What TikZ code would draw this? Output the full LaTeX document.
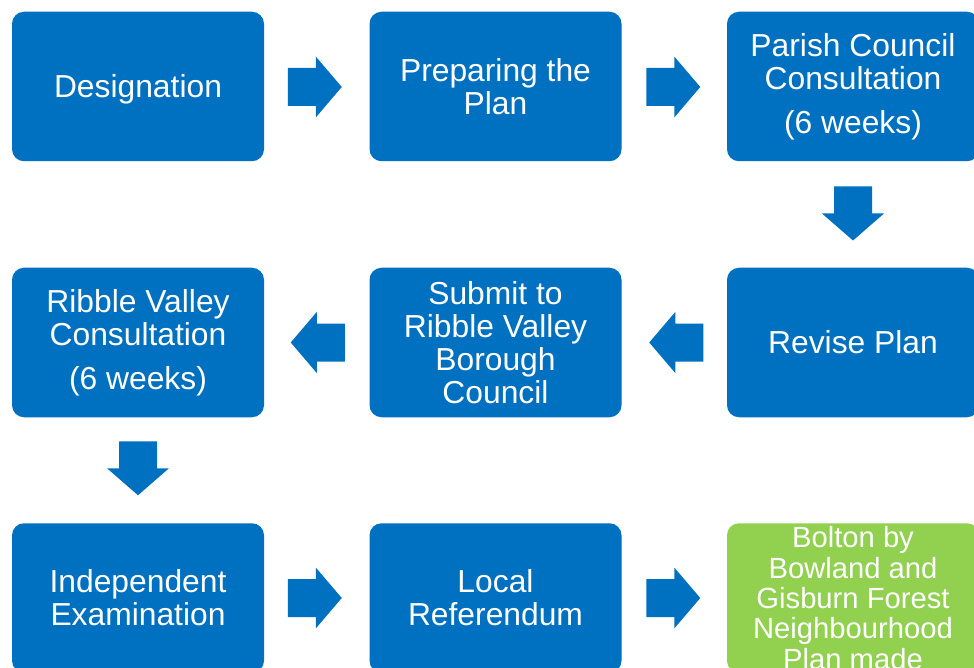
\documentclass[tikz,border=0pt]{standalone}
\usepackage{fontspec}
\setmainfont{Liberation Sans}
\usetikzlibrary{calc}
\definecolor{stepblue}{HTML}{0070C0}
\definecolor{stepgreen}{HTML}{92D050}
\tikzset{
  stepbox/.style={rectangle, rounded corners=12pt, fill=stepblue, draw=none,
    minimum width=252pt, minimum height=149.5pt, inner sep=0pt,
    text=white, align=center, font=\fontsize{31.8}{33}\selectfont},
  finalbox/.style={stepbox, fill=stepgreen, font=\fontsize{29.2}{30.3}\selectfont},
  rarrow/.pic={\fill[stepblue] (-27,-19) -- (1,-19) -- (1,-30.5) -- (27,0) -- (1,30.5) -- (1,19) -- (-27,19) -- cycle;},
  larrow/.pic={\fill[stepblue] (27,-19) -- (-1,-19) -- (-1,-30.5) -- (-27,0) -- (-1,30.5) -- (-1,19) -- (27,19) -- cycle;},
  darrow/.pic={\fill[stepblue] (-19,-27) -- (19,-27) -- (19,0) -- (31,0) -- (0,27) -- (-31,0) -- (-19,0) -- cycle;}
}
\begin{document}
\begin{tikzpicture}[x=1pt,y=-1pt]
\useasboundingbox (0,0) rectangle (974,668);
\clip (0,0) rectangle (974,668);
% row 1
\node[stepbox] (b1) at (138,86.5) {\raisebox{-11pt}[0pt][0pt]{Designation}};
\node[stepbox] (b2) at (495.5,86.5) {Preparing the\\Plan};
\node[stepbox] (b3) at (853,86.5) {Parish Council\\Consultation\\[11pt](6 weeks)};
% row 2
\node[stepbox] (b6) at (853,342.5) {Revise Plan};
\node[stepbox] (b5) at (495.5,342.5) {Submit to\\Ribble Valley\\Borough\\Council};
\node[stepbox] (b4) at (138,342.5) {Ribble Valley\\Consultation\\[11pt](6 weeks)};
% row 3
\node[stepbox] (b7) at (138,598) {Independent\\Examination};
\node[stepbox] (b8) at (495.5,598) {Local\\Referendum};
\node[finalbox] (b9) at (853,598) {Bolton by\\Bowland and\\Gisburn Forest\\Neighbourhood\\Plan made};
% block arrows
\coordinate (a1) at ($(b1.east)!0.5!(b2.west)+(-2,0.5)$);
\coordinate (a2) at ($(b2.east)!0.5!(b3.west)+(-1,0.5)$);
\coordinate (a3) at ($(b3.south)!0.5!(b6.north)+(0,-1)$);
\coordinate (a4) at ($(b6.west)!0.5!(b5.east)+(2,0)$);
\coordinate (a5) at ($(b5.west)!0.5!(b4.east)+(1,0)$);
\coordinate (a6) at ($(b4.south)!0.5!(b7.north)+(0,-2)$);
\coordinate (a7) at ($(b7.east)!0.5!(b8.west)+(-2,0)$);
\coordinate (a8) at ($(b8.east)!0.5!(b9.west)+(-1,0)$);
\pic at (a1) {rarrow};
\pic at (a2) {rarrow};
\pic at (a3) {darrow};
\pic at (a4) {larrow};
\pic at (a5) {larrow};
\pic at (a6) {darrow};
\pic at (a7) {rarrow};
\pic at (a8) {rarrow};
\end{tikzpicture}
\end{document}
